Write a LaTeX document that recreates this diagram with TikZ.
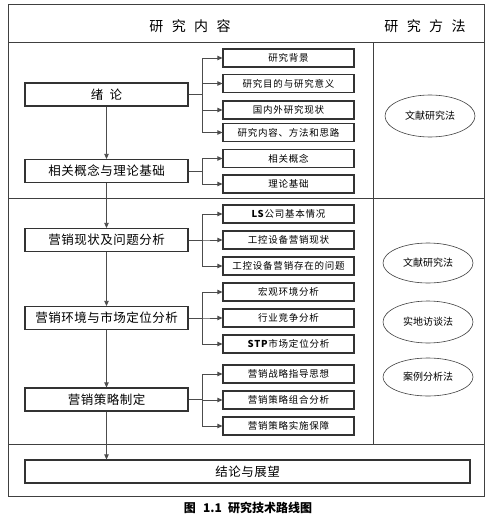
\documentclass[tikz,border=0pt]{standalone}
\usepackage{fontspec}
\setmainfont{Noto Sans CJK SC}
\usetikzlibrary{arrows.meta,positioning,shapes.geometric}
\newcommand\hgap{\hspace{0.6em}}

\begin{document}
\begin{tikzpicture}[x=1pt,y=-1pt,>={Triangle[length=5pt,width=4.5pt]},
  frame/.style={draw=black!75,line width=1pt},
  mainbox/.style={draw=black!80,line width=1.2pt,minimum width=163pt,minimum height=23pt,inner sep=0pt,font=\fontsize{12.5}{14}\selectfont\addfontfeature{LetterSpace=4}},
  subbox/.style={draw=black!80,line width=1.2pt,minimum width=131pt,minimum height=18pt,inner sep=0pt,font=\fontsize{9.5}{11}\selectfont\addfontfeature{LetterSpace=8}},
  method/.style={draw=black!75,line width=0.6pt,ellipse,minimum width=90pt,minimum height=42pt,inner sep=0pt,font=\fontsize{10}{12}\selectfont},
  link/.style={draw=black!70,line width=0.8pt,->},
  head/.style={font=\fontsize{14}{16}\selectfont}]
\useasboundingbox (0,0) rectangle (494,519);
% frame
\draw[frame] (8,5) rectangle (484,496);
\draw[frame] (8,43) -- (484,43);
\draw[frame] (8,198) -- (484,198);
\draw[frame] (8,444) -- (484,444);
\draw[frame] (373,43) -- (373,444);
\node[head] (hcontent) at (190,26) {研\hgap 究\hgap 内\hgap 容};
\node[head] (hmethod) at (425,26) {研\hgap 究\hgap 方\hgap 法};
% main steps
\node[mainbox] (intro) at (106.5,94.5) {绪\hspace{0.5em}论};
\node[mainbox] (theory) at (106.5,171) {相关概念与理论基础};
\node[mainbox] (status) at (106.5,240) {营销现状及问题分析};
\node[mainbox] (env) at (106.5,318) {营销环境与市场定位分析};
\node[mainbox] (strategy) at (106.5,399.5) {营销策略制定};
\node[mainbox,minimum width=445pt] (concl) at (247.5,471.5) {结论与展望};
% sub items
\node[subbox] (bg) at (288.5,58) {研究背景};
\node[subbox] (aim) at (288.5,83.5) {研究目的与研究意义};
\node[subbox] (review) at (288.5,110) {国内外研究现状};
\node[subbox] (outline) at (288.5,132.5) {研究内容、方法和思路};
\node[subbox] (concept) at (288.5,158.5) {相关概念};
\node[subbox] (basis) at (288.5,184) {理论基础};
\node[subbox] (company) at (288.5,214) {\textbf{LS}公司基本情况};
\node[subbox] (market) at (288.5,240) {工控设备营销现状};
\node[subbox] (problem) at (288.5,266) {工控设备营销存在的问题};
\node[subbox] (macro) at (288.5,292) {宏观环境分析};
\node[subbox] (compete) at (288.5,318) {行业竞争分析};
\node[subbox] (stp) at (288.5,344) {\textbf{STP}市场定位分析};
\node[subbox] (guide) at (288.5,374) {营销战略指导思想};
\node[subbox] (mix) at (288.5,400) {营销策略组合分析};
\node[subbox] (ensure) at (288.5,426) {营销策略实施保障};
% methods
\node[method] (lit1) at (430,116) {文献研究法};
\node[method,minimum height=40pt] (lit2) at (428,263) {文献研究法};
\node[method] (field) at (428,322) {实地访谈法};
\node[method,minimum height=38pt] (cases) at (428,377) {案例分析法};
% connectors
\draw[link] (intro) -- (theory);
\draw[link] (theory) -- (status);
\draw[link] (status) -- (env);
\draw[link] (env) -- (strategy);
\draw[link] (strategy) -- (strategy |- concl.north);
\foreach \s in {bg,aim,review,outline} \draw[link] (intro.east) -- ++(14,0) |- (\s);
\foreach \s in {concept,basis} \draw[link] (theory.east) -- ++(14,0) |- (\s);
\foreach \s in {company,market,problem} \draw[link] (status.east) -- ++(14,0) |- (\s);
\foreach \s in {macro,compete,stp} \draw[link] (env.east) -- ++(14,0) |- (\s);
\foreach \s in {guide,mix,ensure} \draw[link] (strategy.east) -- ++(14,0) |- (\s);
% caption
\node[font=\fontsize{12}{14}\selectfont\bfseries] (caption) at (248,508) {图\hspace{0.6em}1.1\hspace{0.5em}研究技术路线图};
\end{tikzpicture}
\end{document}
